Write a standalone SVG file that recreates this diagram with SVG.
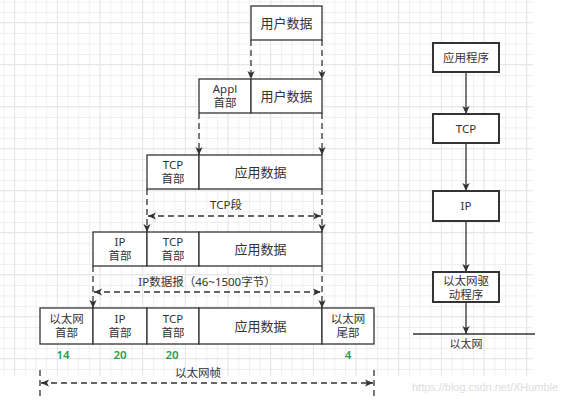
<svg xmlns="http://www.w3.org/2000/svg" width="567" height="400" viewBox="0 0 567 400">
<defs>
<pattern id="gMinor" patternUnits="userSpaceOnUse" x="3.5" y="1.5" width="10.67" height="10.5">
<path d="M0.5,0 V10.5 M0,0.5 H10.67" fill="none" stroke="#efefef" stroke-width="1"/>
</pattern>
<pattern id="gMajor" patternUnits="userSpaceOnUse" x="14.2" y="22" width="42.67" height="42" >
<path d="M0.5,0 V42 M0,0.5 H42.67" fill="none" stroke="#e6e6e6" stroke-width="1"/>
</pattern>
<marker id="ah" viewBox="0 0 10 10" refX="10" refY="5" markerUnits="userSpaceOnUse" markerWidth="9" markerHeight="8" orient="auto-start-reverse">
<path d="M0,0.5 L10,5 L0,9.5 L2.5,5 z" fill="#333"/>
</marker>
<style>
.box{fill:#fff;stroke:#333;stroke-width:1.3}
.rbox{fill:#fff;stroke:#333;stroke-width:2}
.t{font-family:"Noto Sans","Noto Sans CJK SC",sans-serif;fill:#333;text-anchor:middle}
.big{font-size:13px}
.sm{font-size:11.5px}
.num{font-family:"Noto Sans","Noto Sans CJK SC",sans-serif;font-size:11.5px;fill:#2c9a4c;text-anchor:middle;font-weight:600}
.dash{fill:none;stroke:#333;stroke-width:1.3;stroke-dasharray:6,4}
.solid{fill:none;stroke:#333;stroke-width:1.3}
</style>
</defs>
<g id="grid">
<rect x="0" y="0" width="533" height="376" fill="url(#gMinor)"/>
<rect x="0" y="0" width="533" height="376" fill="url(#gMajor)"/>
</g>
<g id="row1">
<rect class="box" x="251" y="6" width="71" height="34"/>
<text class="t big" x="286.5" y="28">用户数据</text>
</g>
<g id="row2">
<rect class="box" x="199" y="79" width="52" height="34"/>
<text class="t sm" x="225" y="93">Appl</text>
<text class="t sm" x="225" y="107">首部</text>
<rect class="box" x="251" y="79" width="71" height="34"/>
<text class="t big" x="286.5" y="101">用户数据</text>
</g>
<g id="row3">
<rect class="box" x="147" y="155" width="52" height="34"/>
<text class="t sm" x="173" y="169">TCP</text>
<text class="t sm" x="173" y="183">首部</text>
<rect class="box" x="199" y="155" width="123" height="34"/>
<text class="t big" x="260.5" y="177">应用数据</text>
</g>
<g id="row4">
<rect class="box" x="93" y="232" width="54" height="34"/>
<text class="t sm" x="120" y="246">IP</text>
<text class="t sm" x="120" y="260">首部</text>
<rect class="box" x="147" y="232" width="52" height="34"/>
<text class="t sm" x="173" y="246">TCP</text>
<text class="t sm" x="173" y="260">首部</text>
<rect class="box" x="199" y="232" width="123" height="34"/>
<text class="t big" x="260.5" y="254">应用数据</text>
</g>
<g id="row5">
<rect class="box" x="40" y="308" width="53" height="36"/>
<text class="t sm" x="66.5" y="323">以太网</text>
<text class="t sm" x="66.5" y="337">首部</text>
<rect class="box" x="93" y="308" width="54" height="36"/>
<text class="t sm" x="120" y="323">IP</text>
<text class="t sm" x="120" y="337">首部</text>
<rect class="box" x="147" y="308" width="52" height="36"/>
<text class="t sm" x="173" y="323">TCP</text>
<text class="t sm" x="173" y="337">首部</text>
<rect class="box" x="199" y="308" width="123" height="36"/>
<text class="t big" x="260.5" y="331">应用数据</text>
<rect class="box" x="322" y="308" width="52" height="36"/>
<text class="t sm" x="348" y="323">以太网</text>
<text class="t sm" x="348" y="337">尾部</text>
</g>
<g id="sizes">
<text class="num" x="63" y="359">14</text>
<text class="num" x="120" y="359">20</text>
<text class="num" x="172" y="359">20</text>
<text class="num" x="348" y="359">4</text>
</g>
<g id="labels">
<text class="t sm" x="226" y="209">TCP段</text>
<text class="t sm" x="207" y="286">IP数据报（46~1500字节）</text>
<text class="t sm" x="198" y="377">以太网帧</text>
</g>
<g id="stack">
<g id="n-app"><rect class="rbox" x="433" y="43" width="66" height="29"/><text class="t sm" x="466" y="62">应用程序</text></g>
<g id="n-tcp"><rect class="rbox" x="433" y="114" width="66" height="29"/><text class="t sm" x="466" y="133">TCP</text></g>
<g id="n-ip"><rect class="rbox" x="433" y="191" width="66" height="30"/><text class="t sm" x="466" y="210">IP</text></g>
<g id="n-eth"><rect class="rbox" x="433" y="272" width="66" height="30"/><text class="t sm" x="466" y="285">以太网驱</text><text class="t sm" x="466" y="299">动程序</text></g>
<g id="n-net"><line class="solid" x1="413" y1="334" x2="535" y2="334" stroke-width="1.5"/><text class="t" font-size="11" x="466" y="348">以太网</text></g>
</g>
<g id="connectors">
<line class="dash" x1="251" y1="40" x2="251" y2="79" marker-end="url(#ah)"/>
<line class="dash" x1="322" y1="40" x2="322" y2="79" marker-end="url(#ah)"/>
<line class="dash" x1="199" y1="113" x2="199" y2="155" marker-end="url(#ah)"/>
<line class="dash" x1="322" y1="113" x2="322" y2="155" marker-end="url(#ah)"/>
<line class="dash" x1="147" y1="189" x2="147" y2="232" marker-end="url(#ah)"/>
<line class="dash" x1="322" y1="189" x2="322" y2="232" marker-end="url(#ah)"/>
<line class="dash" x1="148" y1="216" x2="321" y2="216" marker-start="url(#ah)" marker-end="url(#ah)"/>
<line class="dash" x1="93" y1="266" x2="93" y2="308" marker-end="url(#ah)"/>
<line class="dash" x1="322" y1="266" x2="322" y2="308" marker-end="url(#ah)"/>
<line class="dash" x1="94" y1="292" x2="321" y2="292" marker-start="url(#ah)" marker-end="url(#ah)"/>
<line class="dash" x1="40" y1="370" x2="40" y2="400"/>
<line class="dash" x1="374" y1="370" x2="374" y2="400"/>
<line class="dash" x1="41" y1="383" x2="373" y2="383" marker-start="url(#ah)" marker-end="url(#ah)"/>
<line class="solid" x1="466" y1="72" x2="466" y2="114" marker-end="url(#ah)"/>
<line class="solid" x1="466" y1="143" x2="466" y2="191" marker-end="url(#ah)"/>
<line class="solid" x1="466" y1="221" x2="466" y2="272" marker-end="url(#ah)"/>
<line class="solid" x1="466" y1="302" x2="466" y2="334" marker-end="url(#ah)"/>
</g>
<text x="412" y="391" font-family="'Liberation Sans',sans-serif" font-size="11.5" fill="#dcdcdc" textLength="146" lengthAdjust="spacingAndGlyphs">https://blog.csdn.net/XHumble</text>
</svg>
